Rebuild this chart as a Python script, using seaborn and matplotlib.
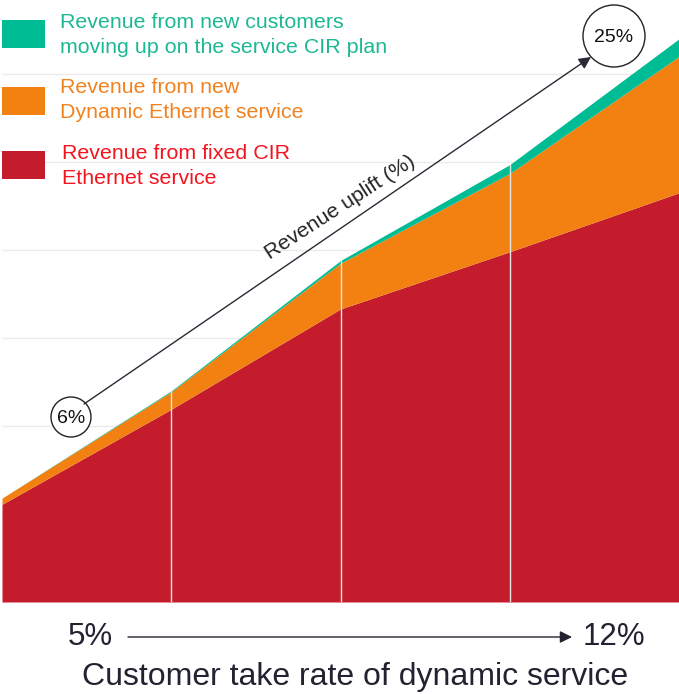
import matplotlib
matplotlib.use("Agg")
import matplotlib.pyplot as plt
from matplotlib.patches import Circle, Rectangle
import seaborn as sns
import numpy as np

# ---- data (gridline step = 10 units) ----
steps = [0, 1, 2, 3, 4]
fixed_cir = [11.1, 21.9, 33.3, 39.8, 46.5]
dynamic_eth = [0.7, 2.0, 5.2, 8.9, 15.5]
moving_up = [0.0, 0.1, 0.3, 1.0, 2.0]
series_labels = ["Revenue from new customers\nmoving up on the service CIR plan",
                 "Revenue from new\nDynamic Ethernet service",
                 "Revenue from fixed CIR\nEthernet service"]
start_label = "5%"
end_label = "12%"
xlabel = "Customer take rate of dynamic service"
uplift_start = "6%"
uplift_end = "25%"
uplift_label = "Revenue uplift (%)"

sns.set_style("white")
plt.rcParams['font.family'] = ['Liberation Sans', 'DejaVu Sans']

RED = "#C41C2C"
ORANGE = "#F28111"
TEAL = "#00BC94"
W, H = 679, 694

fig = plt.figure(figsize=(W / 100, H / 100), dpi=100)
ax = fig.add_axes([2 / W, (H - 602) / H, 677 / W, 602 / H])

ax.set_xlim(0, 4)
ymax = 602 / 8.8
ax.set_ylim(0, ymax)
for g in range(10, 70, 10):
    ax.axhline(g, color="#ebebeb", lw=1, zorder=0)

ax.stackplot(steps, fixed_cir, dynamic_eth, moving_up,
             colors=[RED, ORANGE, TEAL], linewidth=0, zorder=1)
totals = np.array(fixed_cir) + np.array(dynamic_eth) + np.array(moving_up)
for s, t in zip(steps[1:-1], totals[1:-1]):
    ax.plot([s, s], [0, t], color="#e4e4e4", lw=1, zorder=2)

ax.set_xticks([])
ax.set_yticks([])
for sp in ax.spines.values():
    sp.set_visible(False)

# overlay axes in pixel coordinates for annotations
ov = fig.add_axes([0, 0, 1, 1])
ov.set_xlim(0, W)
ov.set_ylim(H, 0)
ov.axis("off")
ov.patch.set_alpha(0)

# legend
leg_colors = [TEAL, ORANGE, RED]
txt_colors = ["#1DB893", "#F08220", "#F2141E"]
patch_y = [(20, 48), (87, 115), (151, 179)]
text_y = [35, 100, 166]
for lab, pc, tc, (y0, y1), ty in zip(series_labels, leg_colors, txt_colors, patch_y, text_y):
    ov.add_patch(Rectangle((2, y0), 43, y1 - y0, color=pc, lw=0))
    ov.text(60 if pc != RED else 62, ty, lab, color=tc, fontsize=15.4, va="center",
            ha="left", linespacing=1.45)

# uplift arrow
ov.annotate("", xy=(591, 57), xytext=(84, 404),
            arrowprops=dict(arrowstyle="-|>", color="#2a2a35", lw=1,
                            mutation_scale=18, shrinkA=0, shrinkB=0))
ov.add_patch(Circle((71, 417), 20, fill=True, facecolor="white",
                    edgecolor="#222222", lw=1))
ov.text(71, 418, uplift_start, fontsize=14, ha="center", va="center", color="#111111")
ov.add_patch(Circle((614, 36), 31, fill=True, facecolor="white",
                    edgecolor="#222222", lw=1))
ov.text(614, 37, uplift_end, fontsize=14, ha="center", va="center", color="#111111")
ov.text(340, 207, uplift_label, fontsize=15.3, rotation=33, ha="center", va="center",
        color="#222222", rotation_mode="anchor")

# bottom labels
ov.text(90, 637, start_label, fontsize=22.5, ha="center", va="center", color="#222230")
ov.text(614, 637, end_label, fontsize=22.5, ha="center", va="center", color="#222230")
ov.annotate("", xy=(572, 637), xytext=(128, 637),
            arrowprops=dict(arrowstyle="-|>", color="#222230", lw=1,
                            mutation_scale=18, shrinkA=0, shrinkB=0))
ov.text(355, 677, xlabel, fontsize=23, ha="center", va="center", color="#222230")

fig.savefig("out.png", dpi=100)
